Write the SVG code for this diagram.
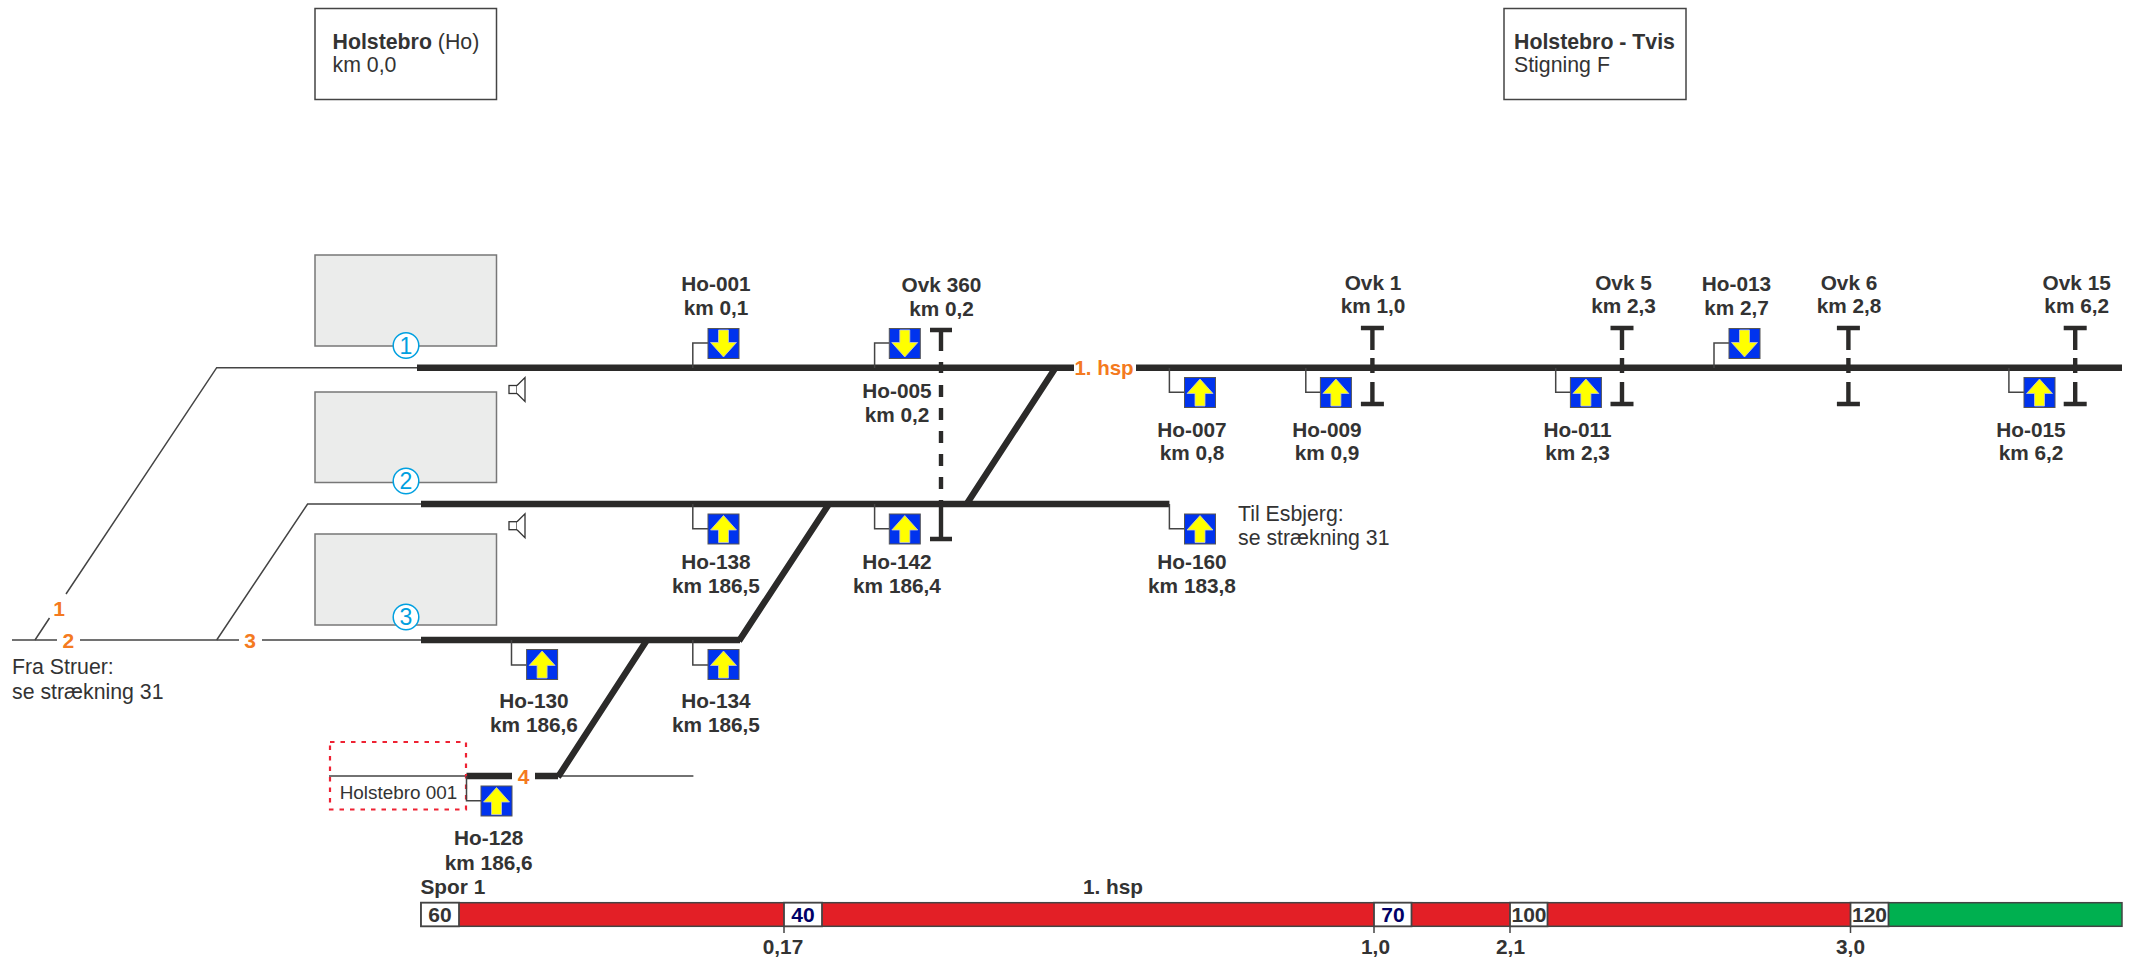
<svg xmlns="http://www.w3.org/2000/svg" width="2134" height="960" viewBox="0 0 2134 960">
<style>
text{font-family:"Liberation Sans",Arial,sans-serif;fill:#333}
.b{font-weight:700;font-size:20.8px;text-anchor:middle}
.r{font-size:21.3px}
.o{font-weight:700;font-size:21px;fill:#f47a20;text-anchor:middle}
.sp{font-weight:700;font-size:21px;text-anchor:middle}
.n{fill:#000066}
.c{font-size:23px;fill:#00a0e0;text-anchor:middle}
.thick{fill:none;stroke:#2b2a29;stroke-width:6.4}
.thin{fill:none;stroke:#444;stroke-width:1.5}
.lead{fill:none;stroke:#444;stroke-width:1.5}
.ovk{fill:none;stroke:#2b2a29;stroke-width:4.4}
.st{fill:#ebeceb;stroke:#777;stroke-width:1.5}
.box{fill:#fff;stroke:#444;stroke-width:1.5}
.spk{fill:#fff;stroke:#333;stroke-width:1.3}
.circ{fill:#fff;stroke:#00a0e0;stroke-width:1.5}
.sb{fill:#fff;stroke:#444;stroke-width:1.8}
.tick{stroke:#444;stroke-width:1.5}
</style>
<defs>
<g id="up"><rect x="0" y="0" width="31" height="30" fill="#0033ee" stroke="#555" stroke-width="1"/><path d="M15.5 1.5L28.5 16H20.5V28.500H10.500V16H2.500Z" fill="#ffff00" stroke="#c8c8c8" stroke-width="0.8"/></g>
<g id="dn"><rect x="0" y="0" width="31" height="30" fill="#0033ee" stroke="#555" stroke-width="1"/><path d="M15.5 28.500L28.500 14H20.500V1.500H10.500V14H2.500Z" fill="#ffff00" stroke="#c8c8c8" stroke-width="0.8"/></g>
<g id="speaker"><rect x="0" y="-4" width="8" height="8" class="spk"/><path d="M8 -4L16 -12V12L8 4" class="spk"/></g>
<g id="ovkS"><path d="M-11.500 0H11.500M0 0V22M0 30V45M-11.500 76H11.500M0 76V54" class="ovk"/></g>
</defs>

<g id="station-ho"><rect x="315" y="8.500" width="181.500" height="91" class="box"/><text x="332.500" y="48.500" class="r"><tspan font-weight="700">Holstebro</tspan> (Ho)</text><text x="332.500" y="72" class="r">km 0,0</text></g>
<g id="section"><rect x="1504" y="8.500" width="182" height="91" class="box"/><text x="1514" y="48.500" class="r" font-weight="700">Holstebro - Tvis</text><text x="1514" y="72" class="r">Stigning F</text></g>

<g id="platform-1"><rect x="315" y="255" width="181.500" height="91" class="st"/></g>
<g id="platform-2"><rect x="315" y="392" width="181.500" height="90.500" class="st"/></g>
<g id="platform-3"><rect x="315" y="534" width="181.500" height="91" class="st"/></g>

<g id="connectors">
<path class="thin" d="M12 640H57M80 640H239M262 640H421"/>
<path class="thin" d="M35 640L49.500 618M66 594L216.700 367.700H417"/>
<path class="thin" d="M216.700 640L307.600 504H421"/>
<path class="thin" d="M329 776H466.500M558 776H693.400"/>
<path class="thick" d="M417 367.700H1074M1136 367.700H2122"/>
<path class="thick" d="M421 504H1169.400"/>
<path class="thick" d="M421 640H740"/>
<path class="thick" d="M466.500 776H512M535 776H558"/>
<path class="thick" d="M1055.500 367.700L966 505M829 504L739 641M647 640L558 777"/>
<rect x="330" y="742" width="136" height="67.500" fill="none" stroke="#ee2233" stroke-width="2.200" stroke-dasharray="4.500 6"/>
<path class="lead" d="M692.800 368V343H708M874.600 368V343H889"/>
<path class="lead" d="M1169.400 368V392.300H1185M1305.800 368V392.300H1320.400M1555.700 368V392.300H1570.400M2008.900 368V392.300H2024M1714 368V343H1729"/>
<path class="lead" d="M692.800 504V528.700H708M874.600 504V528.700H889M1169.400 504V528.700H1185"/>
<path class="lead" d="M511.500 640V665H526.600M692.800 640V665H708M466.500 776V800.700H481"/>
<path class="ovk" d="M930 330H952M941 330V351M941 362V373M941 385V397M941 408V420M941 431V443M941 454V466M941 477V489M941 500V539M930 539H952"/>
</g>

<g id="track-labels">
<text x="59" y="616" class="o">1</text>
<text x="68.400" y="648" class="o">2</text>
<text x="250" y="648" class="o">3</text>
<text x="523.500" y="784" class="o">4</text>
<text x="1104" y="374.500" class="o" style="font-size:20.500px">1. hsp</text>
<text x="12" y="674" class="r">Fra Struer:</text>
<text x="12" y="699" class="r">se strækning 31</text>
<text x="1238" y="520.500" class="r">Til Esbjerg:</text>
<text x="1238" y="544.500" class="r">se strækning 31</text>
<text x="398.500" y="799" font-size="18.900" text-anchor="middle">Holstebro 001</text>
</g>

<g id="circle-1"><circle cx="406" cy="345.500" r="12.800" class="circ"/><text x="406" y="353.500" class="c">1</text></g>
<g id="circle-2"><circle cx="406" cy="481" r="12.800" class="circ"/><text x="406" y="489" class="c">2</text></g>
<g id="circle-3"><circle cx="406" cy="617" r="12.800" class="circ"/><text x="406" y="625" class="c">3</text></g>

<g id="speaker-1"><use href="#speaker" x="509" y="389.500"/></g>
<g id="speaker-2"><use href="#speaker" x="509" y="525.700"/></g>

<g id="ho-001"><use href="#dn" x="708" y="328.500"/><text x="716" y="291" class="b">Ho-001</text><text x="716" y="315" class="b">km 0,1</text></g>
<g id="ho-005"><use href="#dn" x="889.300" y="328.500"/><text x="897" y="398" class="b">Ho-005</text><text x="897" y="422" class="b">km 0,2</text></g>
<g id="ho-007"><use href="#up" x="1184.500" y="377.500"/><text x="1192" y="436.500" class="b">Ho-007</text><text x="1192" y="460" class="b">km 0,8</text></g>
<g id="ho-009"><use href="#up" x="1320.400" y="377.500"/><text x="1327" y="436.500" class="b">Ho-009</text><text x="1327" y="460" class="b">km 0,9</text></g>
<g id="ho-011"><use href="#up" x="1570.400" y="377.500"/><text x="1577.500" y="436.500" class="b">Ho-011</text><text x="1577.500" y="460" class="b">km 2,3</text></g>
<g id="ho-013"><use href="#dn" x="1729" y="328.500"/><text x="1736.500" y="291" class="b">Ho-013</text><text x="1736.500" y="315" class="b">km 2,7</text></g>
<g id="ho-015"><use href="#up" x="2024" y="377.500"/><text x="2031" y="436.500" class="b">Ho-015</text><text x="2031" y="460" class="b">km 6,2</text></g>
<g id="ho-138"><use href="#up" x="708" y="514"/><text x="716" y="569" class="b">Ho-138</text><text x="716" y="592.500" class="b">km 186,5</text></g>
<g id="ho-142"><use href="#up" x="889.300" y="514"/><text x="897" y="569" class="b">Ho-142</text><text x="897" y="592.500" class="b">km 186,4</text></g>
<g id="ho-160"><use href="#up" x="1184.500" y="514"/><text x="1192" y="569" class="b">Ho-160</text><text x="1192" y="592.500" class="b">km 183,8</text></g>
<g id="ho-130"><use href="#up" x="526.600" y="649.500"/><text x="534" y="708" class="b">Ho-130</text><text x="534" y="732" class="b">km 186,6</text></g>
<g id="ho-134"><use href="#up" x="708" y="649.500"/><text x="716" y="708" class="b">Ho-134</text><text x="716" y="732" class="b">km 186,5</text></g>
<g id="ho-128"><use href="#up" x="481" y="786"/><text x="488.700" y="845" class="b">Ho-128</text><text x="488.700" y="870" class="b">km 186,6</text></g>

<g id="ovk-360"><text x="941.500" y="292" class="b">Ovk 360</text><text x="941.500" y="316" class="b">km 0,2</text></g>
<g id="ovk-1"><use href="#ovkS" x="1372.400" y="328"/><text x="1373" y="289.500" class="b">Ovk 1</text><text x="1373" y="313" class="b">km 1,0</text></g>
<g id="ovk-5"><use href="#ovkS" x="1622" y="328"/><text x="1623.500" y="289.500" class="b">Ovk 5</text><text x="1623.500" y="313" class="b">km 2,3</text></g>
<g id="ovk-6"><use href="#ovkS" x="1848.400" y="328"/><text x="1849" y="289.500" class="b">Ovk 6</text><text x="1849" y="313" class="b">km 2,8</text></g>
<g id="ovk-15"><use href="#ovkS" x="2075.200" y="328"/><text x="2076.700" y="289.500" class="b">Ovk 15</text><text x="2076.700" y="313" class="b">km 6,2</text></g>

<g id="speed-bar">
<text x="420.500" y="894" class="b" style="text-anchor:start">Spor 1</text>
<text x="1113" y="893.500" class="b">1. hsp</text>
<rect x="421" y="902.700" width="1430" height="23.600" fill="#e31f26" stroke="#444" stroke-width="1.500"/>
<rect x="1888" y="902.700" width="234" height="23.600" fill="#00b050" stroke="#444" stroke-width="1.500"/>
<rect x="421" y="902.700" width="38" height="23.600" class="sb"/><text x="440" y="922" class="sp">60</text>
<rect x="784" y="902.700" width="38" height="23.600" class="sb"/><text x="803" y="922" class="sp n">40</text>
<rect x="1374" y="902.700" width="37.500" height="23.600" class="sb"/><text x="1393" y="922" class="sp n">70</text>
<rect x="1510" y="902.700" width="37.500" height="23.600" class="sb"/><text x="1529" y="922" class="sp">100</text>
<rect x="1850.500" y="902.700" width="38" height="23.600" class="sb"/><text x="1869.500" y="922" class="sp">120</text>
<path class="tick" d="M784 926V933M1374 926V933M1510 926V933M1850.500 926V933"/>
<text x="783" y="953.500" class="b">0,17</text>
<text x="1375.500" y="953.500" class="b">1,0</text>
<text x="1510.500" y="953.500" class="b">2,1</text>
<text x="1850.500" y="953.500" class="b">3,0</text>
</g>
</svg>
